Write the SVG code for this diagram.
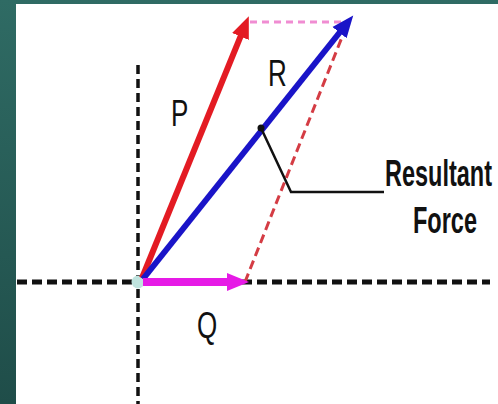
<svg xmlns="http://www.w3.org/2000/svg" width="498" height="404" viewBox="0 0 498 404">
  <defs>
    <linearGradient id="bg" x1="0" y1="0" x2="0" y2="1">
      <stop offset="0" stop-color="#2f6b64"/>
      <stop offset="1" stop-color="#1f4d49"/>
    </linearGradient>
    <marker id="hRed" markerUnits="userSpaceOnUse" markerWidth="24" markerHeight="20" refX="4" refY="9" orient="auto" viewBox="0 0 24 18">
      <path d="M0,0 L22,9 L0,18 z" fill="#e31b23"/>
    </marker>
    <marker id="hBlue" markerUnits="userSpaceOnUse" markerWidth="24" markerHeight="20" refX="4" refY="9" orient="auto" viewBox="0 0 24 18">
      <path d="M0,0 L22,9 L0,18 z" fill="#1a14c8"/>
    </marker>
    <marker id="hMag" markerUnits="userSpaceOnUse" markerWidth="24" markerHeight="20" refX="4" refY="9" orient="auto" viewBox="0 0 24 18">
      <path d="M0,0 L22,9 L0,18 z" fill="#e61ae6"/>
    </marker>
  </defs>
  <style>
    .lbl { font-family: "Liberation Sans", Arial, sans-serif; font-size: 26px; fill: #111; }
    .bold { font-weight: bold; font-size: 23.5px; }
    .axis { stroke: #111; fill: none; }
  </style>
  <rect x="0" y="0" width="498" height="404" fill="url(#bg)"/>
  <rect x="16" y="4" width="482" height="400" fill="#ffffff"/>

  <g id="connectors">
    <line class="axis" x1="138" y1="65" x2="138" y2="404" stroke-width="3.5" stroke-dasharray="9,5"/>
    <line class="axis" x1="17" y1="282" x2="490" y2="282" stroke-width="5" stroke-dasharray="10,5"/>
    <circle cx="138" cy="282" r="6.5" fill="#bfe3de"/>
    <line x1="250" y1="22" x2="344" y2="22" stroke="#f08cd2" stroke-width="3" stroke-dasharray="7,5"/>
    <line x1="245" y1="282" x2="346" y2="27" stroke="#d43c44" stroke-width="3" stroke-dasharray="9,5"/>
    <line id="P-arrow" x1="142" y1="278" x2="242" y2="32.8" stroke="#e31b23" stroke-width="6" marker-end="url(#hRed)"/>
    <line id="R-arrow" x1="143" y1="279" x2="342" y2="29.5" stroke="#1a14c8" stroke-width="6" marker-end="url(#hBlue)"/>
    <line id="Q-arrow" x1="143" y1="282" x2="231" y2="282" stroke="#e61ae6" stroke-width="8" marker-end="url(#hMag)"/>
    <circle cx="261" cy="128" r="3.5" fill="#111"/>
    <polyline points="261,128 291,192 384,192" fill="none" stroke="#111" stroke-width="2.5"/>
  </g>

  <g id="label-P"><text class="lbl" transform="translate(171,126) scale(1,1.45)">P</text></g>
  <g id="label-R"><text class="lbl" transform="translate(268,86) scale(1,1.45)">R</text></g>
  <g id="label-Q"><text class="lbl" transform="translate(197,338) scale(1,1.45)">Q</text></g>
  <g id="label-resultant">
    <text class="lbl bold" transform="translate(385,186) scale(1,1.55)">Resultant</text>
    <text class="lbl bold" transform="translate(413,233) scale(1,1.55)">Force</text>
  </g>
</svg>
